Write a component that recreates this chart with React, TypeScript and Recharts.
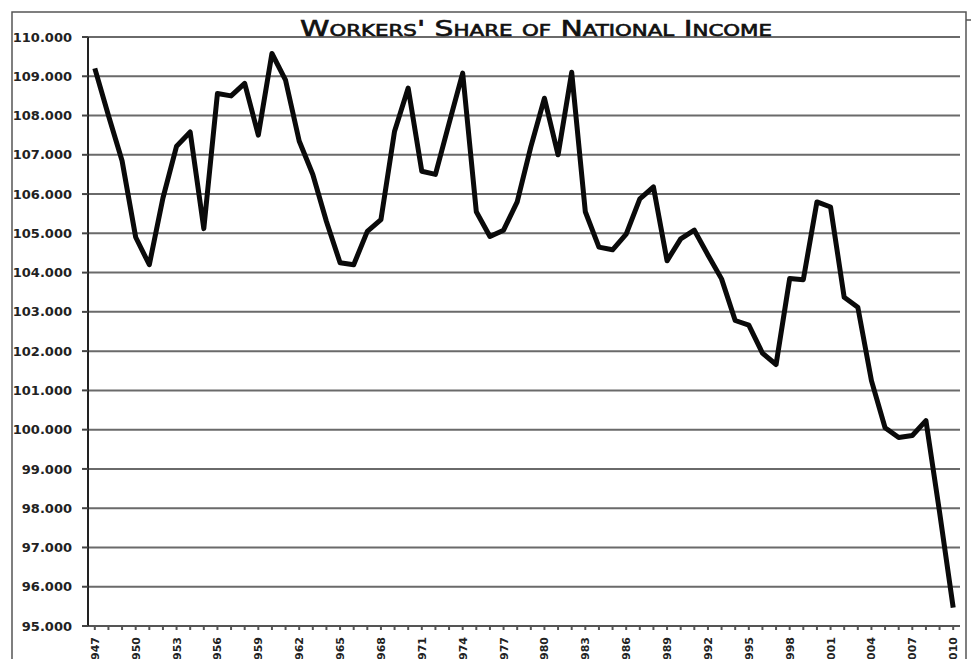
import React from "react";
import { LineChart, Line, XAxis, YAxis, CartesianGrid } from "recharts";

const TITLE = "Workers' Share of National Income";

const years: number[] = [
  1947, 1948, 1949, 1950, 1951, 1952, 1953, 1954, 1955, 1956,
  1957, 1958, 1959, 1960, 1961, 1962, 1963, 1964, 1965, 1966,
  1967, 1968, 1969, 1970, 1971, 1972, 1973, 1974, 1975, 1976,
  1977, 1978, 1979, 1980, 1981, 1982, 1983, 1984, 1985, 1986,
  1987, 1988, 1989, 1990, 1991, 1992, 1993, 1994, 1995, 1996,
  1997, 1998, 1999, 2000, 2001, 2002, 2003, 2004, 2005, 2006,
  2007, 2008, 2009, 2010,
];

const share: number[] = [
  109.2, 108.0, 106.85, 104.9, 104.2, 105.9, 107.22, 107.58, 105.12, 108.56,
  108.5, 108.82, 107.5, 109.58, 108.9, 107.35, 106.5, 105.3, 104.25, 104.2,
  105.05, 105.35, 107.6, 108.7, 106.58, 106.5, 107.8, 109.08, 105.55, 104.92,
  105.08, 105.8, 107.2, 108.44, 107.0, 109.1, 105.55, 104.65, 104.58, 104.98,
  105.88, 106.18, 104.3, 104.86, 105.08, 104.45, 103.84, 102.78, 102.66, 101.95,
  101.66, 103.85, 103.82, 105.8, 105.67, 103.37, 103.12, 101.25, 100.05, 99.8,
  99.85, 100.23, 97.9, 95.47,
];

const yTicks: number[] = [95, 96, 97, 98, 99, 100, 101, 102, 103, 104, 105, 106, 107, 108, 109, 110];

const data = years.map((y, i) => ({ year: y, share: share[i] }));

const XTick = (props: any) => {
  const { x, y, index, payload } = props;
  if (index % 3 !== 0) return <g />;
  return (
    <text
      x={x}
      y={y}
      transform={`rotate(-90 ${x} ${y})`}
      textAnchor="end"
      dy="0.36em"
      fontFamily="DejaVu Sans"
      fontWeight="bold"
      fontSize={11}
      fill="#222"
    >
      {payload.value}
    </text>
  );
};

export default function App() {
  return (
    <div style={{ position: "relative", width: 971, height: 651, overflow: "hidden", background: "#fff" }}>
      <LineChart
        width={971}
        height={700}
        data={data}
        margin={{ top: 29, right: 19, left: 0, bottom: 22 }}
      >
        <CartesianGrid vertical={false} stroke="#6a6a6a" strokeWidth={2} />
        <XAxis
          dataKey="year"
          scale="band"
          interval={0}
          height={60}
          tickSize={4}
          tickMargin={7}
          tick={<XTick />}
          axisLine={{ stroke: "#555", strokeWidth: 2 }}
          tickLine={{ stroke: "#555", strokeWidth: 2 }}
        />
        <YAxis
          domain={[95, 110]}
          ticks={yTicks}
          width={80}
          tickSize={6}
          tickMargin={10}
          tickFormatter={(v: number) => v.toFixed(3)}
          tick={{ fontFamily: "DejaVu Sans", fontWeight: "bold", fontSize: 13, fill: "#222" }}
          axisLine={{ stroke: "#222", strokeWidth: 2 }}
          tickLine={{ stroke: "#444", strokeWidth: 2 }}
        />
        <Line
          type="linear"
          dataKey="share"
          stroke="#0a0a0a"
          strokeWidth={5}
          dot={false}
          strokeLinejoin="round"
          isAnimationActive={false}
        />
      </LineChart>
      <svg
        width={971}
        height={651}
        style={{ position: "absolute", left: 0, top: 0, pointerEvents: "none" }}
      >
        <rect x={4} y={4} width={954} height={700} fill="none" stroke="#555" strokeWidth={1.5} />
        <polyline points="958,12 967,12 967,651" fill="none" stroke="#555" strokeWidth={1.5} />
        <text
          x={528}
          y={28}
          textAnchor="middle"
          textLength={472}
          lengthAdjust="spacingAndGlyphs"
          fontFamily="DejaVu Sans"
          fontWeight="normal"
          fontSize={21}
          fill="#111"
          stroke="#111"
          strokeWidth={0.6}
          style={{ fontVariant: "small-caps" }}
        >
          {TITLE}
        </text>
      </svg>
    </div>
  );
}
